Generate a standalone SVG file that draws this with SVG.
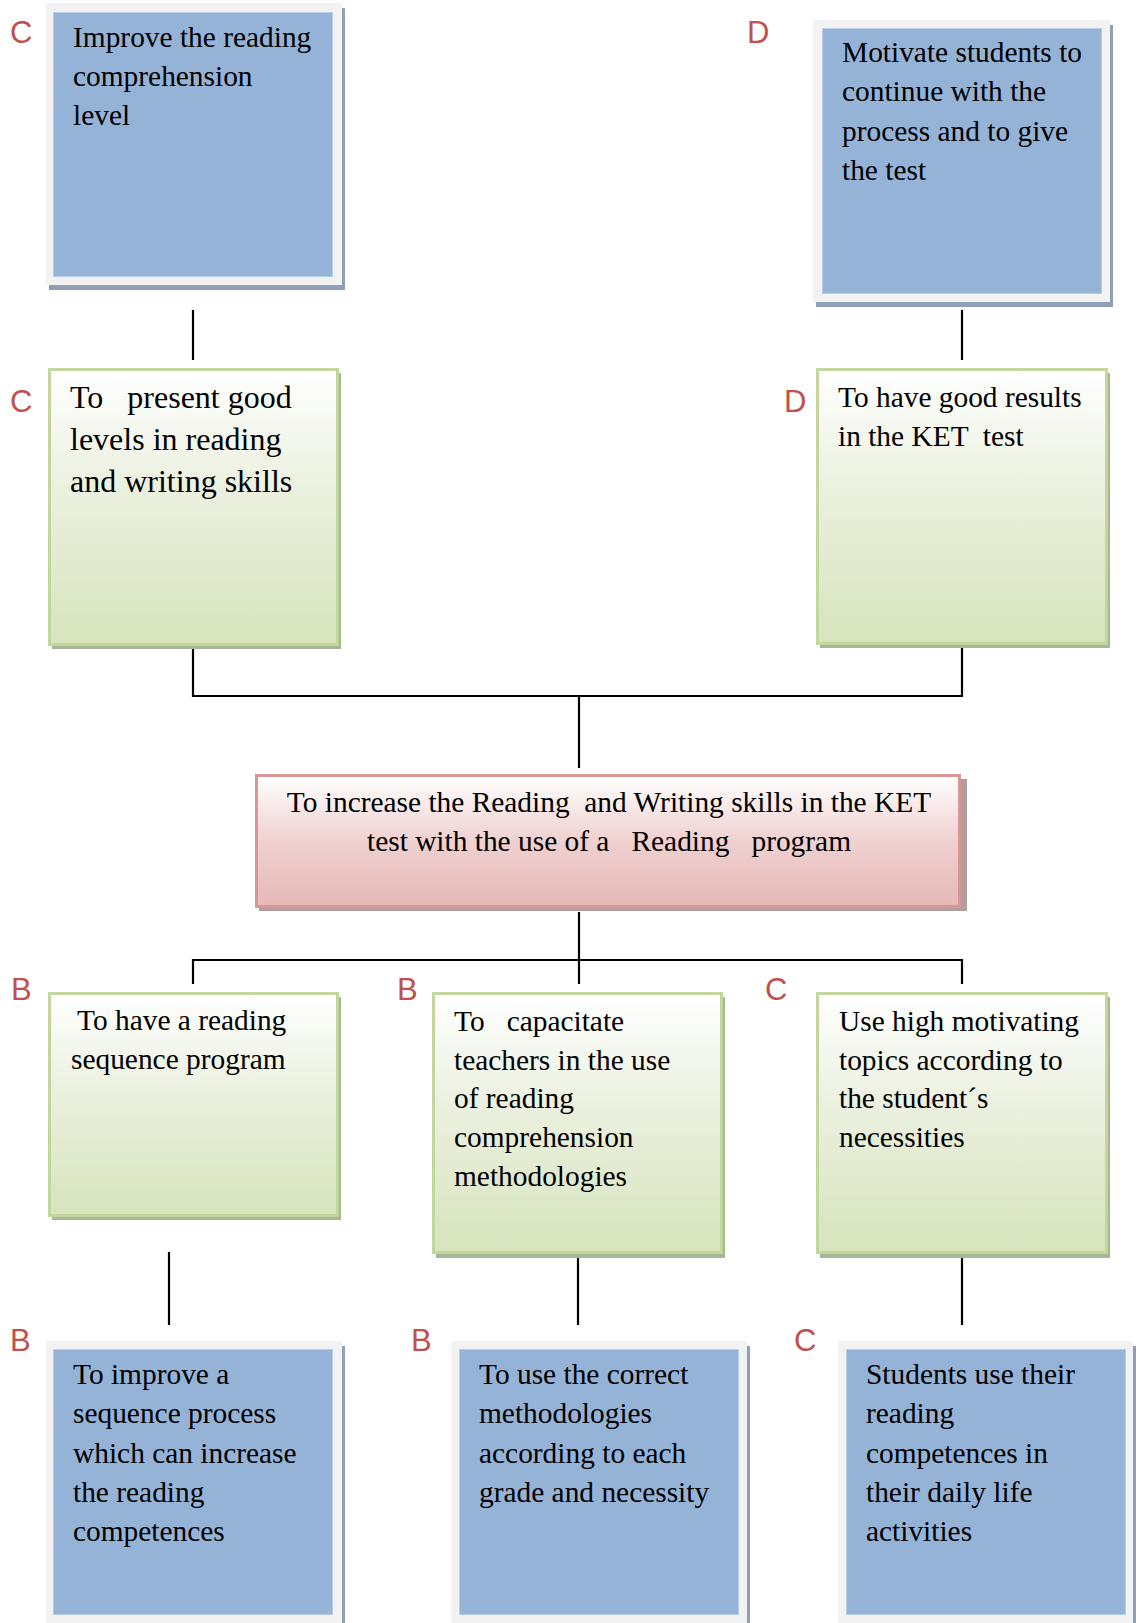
<svg xmlns="http://www.w3.org/2000/svg" width="1136" height="1623" viewBox="0 0 1136 1623">
<style>
.t{font-family:"Liberation Serif","Times New Roman",serif;font-size:29.4px;fill:#000;white-space:pre}
.big{font-size:32px}
.lbl{font-family:"Liberation Sans",Arial,sans-serif;font-size:31px;fill:#c0504d}
.frame{fill:#f2f2f2}
.bshadow{fill:#8f9fb5}
.blue{fill:#95b3d7;stroke:#b9cde5;stroke-width:1}
.gshadow{fill:#a7b697}
.green{fill:url(#gg);stroke:#c3d69b;stroke-width:3}
.pshadow{fill:#b39c9e}
.pink{fill:url(#pg);stroke:#d99694;stroke-width:3}
.conn{stroke:#000;stroke-width:2.2;fill:none}
</style>
<defs>
<linearGradient id="gg" x1="0" y1="0" x2="0" y2="1">
<stop offset="0" stop-color="#ffffff"/>
<stop offset="0.45" stop-color="#eaf0de"/>
<stop offset="1" stop-color="#d7e4bd"/>
</linearGradient>
<linearGradient id="pg" x1="0" y1="0" x2="0" y2="1">
<stop offset="0" stop-color="#ffffff"/>
<stop offset="0.5" stop-color="#efd1d0"/>
<stop offset="1" stop-color="#e6b9b8"/>
</linearGradient>
</defs>
<rect width="1136" height="1623" fill="#fff"/>

<g id="connectors">
<line class="conn" x1="193" y1="310" x2="193" y2="360"/>
<line class="conn" x1="962" y1="310" x2="962" y2="360"/>
<polyline class="conn" points="193,647 193,696 962,696 962,647"/>
<line class="conn" x1="579" y1="696" x2="579" y2="768"/>
<line class="conn" x1="579" y1="912" x2="579" y2="984"/>
<polyline class="conn" points="193,984 193,960 962,960 962,984"/>
<line class="conn" x1="169" y1="1252" x2="169" y2="1325"/>
<line class="conn" x1="578" y1="1252" x2="578" y2="1325"/>
<line class="conn" x1="962" y1="1252" x2="962" y2="1325"/>
</g>

<g id="n1">
<rect class="bshadow" x="49" y="8" width="296" height="282"/>
<rect class="frame" x="46" y="3" width="296" height="282"/>
<rect class="blue" x="53.5" y="12.5" width="279" height="264"/>
<text class="lbl" x="10" y="43">C</text>
<text class="t" x="73" y="47">Improve the reading</text>
<text class="t" x="73" y="86">comprehension</text>
<text class="t" x="73" y="125">level</text>
</g>

<g id="n2">
<rect class="bshadow" x="816" y="25" width="297" height="282"/>
<rect class="frame" x="813" y="20" width="297" height="282"/>
<rect class="blue" x="822.5" y="28.5" width="279" height="265"/>
<text class="lbl" x="747" y="43">D</text>
<text class="t" x="842" y="62">Motivate students to</text>
<text class="t" x="842" y="101">continue with the</text>
<text class="t" x="842" y="141">process and to give</text>
<text class="t" x="842" y="180">the test</text>
</g>

<g id="n3">
<rect class="gshadow" x="52" y="373" width="289" height="276"/>
<rect class="green" x="49.5" y="369.5" width="288" height="275"/>
<text class="lbl" x="10" y="412">C</text>
<text class="t big" x="70" y="408">To   present good</text>
<text class="t big" x="70" y="450">levels in reading</text>
<text class="t big" x="70" y="492">and writing skills</text>
</g>

<g id="n4">
<rect class="gshadow" x="820" y="373" width="290" height="275"/>
<rect class="green" x="817.5" y="369.5" width="289" height="274"/>
<text class="lbl" x="784" y="412">D</text>
<text class="t" x="838" y="407">To have good results</text>
<text class="t" x="838" y="446">in the KET  test</text>
</g>

<g id="n5">
<rect class="pshadow" x="259" y="779" width="708" height="132"/>
<rect class="pink" x="256.5" y="775.5" width="703" height="131"/>
<text class="t" x="609" y="812" text-anchor="middle">To increase the Reading  and Writing skills in the KET</text>
<text class="t" x="609" y="851" text-anchor="middle">test with the use of a   Reading   program</text>
</g>

<g id="n6">
<rect class="gshadow" x="52" y="997" width="289" height="223"/>
<rect class="green" x="49.5" y="993.5" width="288" height="222"/>
<text class="lbl" x="11" y="1000">B</text>
<text class="t" x="77" y="1030">To have a reading</text>
<text class="t" x="71" y="1069">sequence program</text>
</g>

<g id="n7">
<rect class="gshadow" x="436" y="997" width="289" height="261"/>
<rect class="green" x="433.5" y="993.5" width="288" height="259"/>
<text class="lbl" x="397" y="1000">B</text>
<text class="t" x="454" y="1031">To   capacitate</text>
<text class="t" x="454" y="1070">teachers in the use</text>
<text class="t" x="454" y="1108">of reading</text>
<text class="t" x="454" y="1147">comprehension</text>
<text class="t" x="454" y="1186">methodologies</text>
</g>

<g id="n8">
<rect class="gshadow" x="820" y="997" width="290" height="261"/>
<rect class="green" x="817.5" y="993.5" width="289" height="259"/>
<text class="lbl" x="765" y="1000">C</text>
<text class="t" x="839" y="1031">Use high motivating</text>
<text class="t" x="839" y="1070">topics according to</text>
<text class="t" x="839" y="1108">the student´s</text>
<text class="t" x="839" y="1147">necessities</text>
</g>

<g id="n9">
<rect class="bshadow" x="49" y="1346" width="296" height="282"/>
<rect class="frame" x="46" y="1341" width="296" height="282"/>
<rect class="blue" x="53.5" y="1349.5" width="279" height="265"/>
<text class="lbl" x="10" y="1351">B</text>
<text class="t" x="73" y="1384">To improve a</text>
<text class="t" x="73" y="1423">sequence process</text>
<text class="t" x="73" y="1463">which can increase</text>
<text class="t" x="73" y="1502">the reading</text>
<text class="t" x="73" y="1541">competences</text>
</g>

<g id="n10">
<rect class="bshadow" x="454" y="1346" width="296" height="282"/>
<rect class="frame" x="451" y="1341" width="296" height="282"/>
<rect class="blue" x="459.5" y="1349.5" width="279" height="265"/>
<text class="lbl" x="411" y="1351">B</text>
<text class="t" x="479" y="1384">To use the correct</text>
<text class="t" x="479" y="1423">methodologies</text>
<text class="t" x="479" y="1463">according to each</text>
<text class="t" x="479" y="1502">grade and necessity</text>
</g>

<g id="n11">
<rect class="bshadow" x="841" y="1346" width="295" height="282"/>
<rect class="frame" x="838" y="1341" width="295" height="282"/>
<rect class="blue" x="846.5" y="1349.5" width="279" height="265"/>
<text class="lbl" x="794" y="1351">C</text>
<text class="t" x="866" y="1384">Students use their</text>
<text class="t" x="866" y="1423">reading</text>
<text class="t" x="866" y="1463">competences in</text>
<text class="t" x="866" y="1502">their daily life</text>
<text class="t" x="866" y="1541">activities</text>
</g>
</svg>
